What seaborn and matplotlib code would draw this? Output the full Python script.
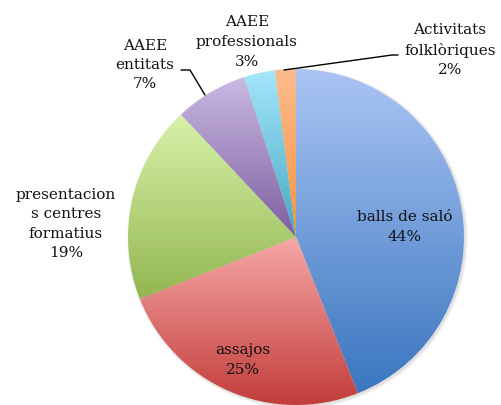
import numpy as np
import matplotlib
matplotlib.use("Agg")
import matplotlib.pyplot as plt
import seaborn as sns
from matplotlib.colors import LinearSegmentedColormap
from matplotlib.patches import Circle

# Share of activities by type (percent)
categories = ["balls de saló", "assajos", "presentacions centres formatius",
              "AAEE entitats", "AAEE professionals", "Activitats folklòriques"]
values = [44, 25, 19, 7, 3, 2]
label_texts = ["balls de saló\n44%", "assajos\n25%",
               "presentacion\ns centres\nformatius\n19%",
               "AAEE\nentitats\n7%", "AAEE\nprofessionals\n3%",
               "Activitats\nfolklòriques\n2%"]

# Gradient fills (top colour, bottom colour) for each slice
top_colors = ["#abc5f4", "#f6a8a7", "#d8f2aa", "#c9b9e3", "#a5e6fa", "#fcbc8d"]
bottom_colors = ["#3a76bf", "#c23d3a", "#93b650", "#7d5fa0", "#45a8c4", "#f69240"]

# Label anchor points in pixel coordinates (x, y from top)
label_xy = [(405, 227), (243, 360), (66, 224), (145, 65), (247, 42), (450, 50)]

sns.set_theme(style="white")
plt.rcParams["font.family"] = ["DejaVu Serif"]

W, H = 501, 405
fig = plt.figure(figsize=(W / 100, H / 100), dpi=100)
ax = fig.add_axes([0, 0, 1, 1])

cx, cy_px, R = 296, 237, 168
cy = H - cy_px

# soft drop shadow
for i, a in enumerate([0.03, 0.04, 0.05]):
    ax.add_patch(Circle((cx + 1.5, cy - 1.5), R + 2.5 - i, color="black",
                        alpha=a, lw=0, zorder=0))

wedges, _ = ax.pie(values, startangle=90, counterclock=False, center=(cx, cy),
                   radius=R, colors=["none"] * len(values),
                   wedgeprops=dict(linewidth=0))

grad = np.linspace(0, 1, 256).reshape(-1, 1)
for w, c0, c1 in zip(wedges, top_colors, bottom_colors):
    t = np.linspace(np.radians(w.theta1), np.radians(w.theta2), 200)
    ys = np.concatenate([cy + R * np.sin(t), [cy]])
    xs = np.concatenate([cx + R * np.cos(t), [cx]])
    cmap = LinearSegmentedColormap.from_list("g", [c0, c1])
    im = ax.imshow(grad, cmap=cmap, aspect="auto", interpolation="bilinear",
                   extent=[xs.min(), xs.max(), ys.min(), ys.max()], zorder=1,
                   origin="upper")
    im.set_clip_path(w)

# label texts
for txt, (x, y) in zip(label_texts, label_xy):
    ax.text(x, H - y, txt, ha="center", va="center", fontsize=11,
            color="#111111", linespacing=1.5, zorder=3)

# leader lines
ax.plot([181, 190, 205], [H - 70, H - 70, H - 95], color="black", lw=1, zorder=3)
ax.plot([398, 392, 284], [H - 55, H - 55, H - 70], color="black", lw=1, zorder=3)

ax.set_xlim(0, W)
ax.set_ylim(0, H)
ax.set_aspect("auto")
ax.axis("off")
fig.savefig("out.png", dpi=100, facecolor="white")
